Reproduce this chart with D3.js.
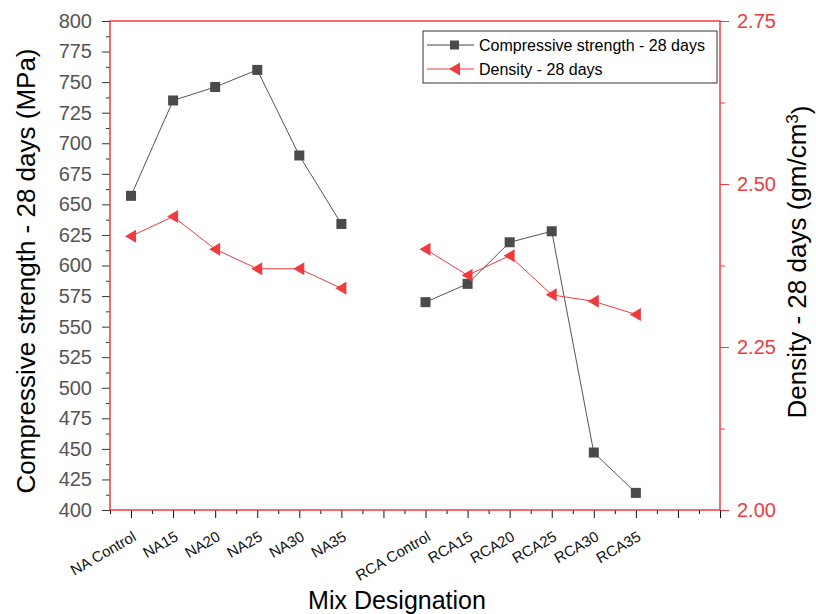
<!DOCTYPE html>
<html>
<head>
<meta charset="utf-8">
<script src="https://cdn.jsdelivr.net/npm/d3@7"></script>
<style>
body { margin: 0; background: #fff; }
text { font-family: "Liberation Sans", Arial, sans-serif; }
</style>
</head>
<body>
<svg id="chart" width="816" height="614"></svg>
<script>
var width = 816
var height = 614

// data
var mixes = ["NA Control", "NA15", "NA20", "NA25", "NA30", "NA35", "",
             "RCA Control", "RCA15", "RCA20", "RCA25", "RCA30", "RCA35", "", ""]
var strength = [657, 735, 746, 760, 690, 634, null, 570, 585, 619, 628, 447, 414, null, null]
var density = [2.42, 2.45, 2.40, 2.37, 2.37, 2.34, null, 2.40, 2.36, 2.39, 2.33, 2.32, 2.30, null, null]
var strengthTicks = d3.range(400, 801, 25)
var densityTicks = [2.00, 2.25, 2.50, 2.75]

var red = "#ef3b3f"
var grey = "#4a4a4a"

var plotL = 110, plotR = 720, plotT = 21, plotB = 510

var svg = d3.select("#chart")

var x = d3.scaleLinear().domain([-0.5, mixes.length - 1]).range([plotL, plotR])
var yL = d3.scaleLinear().domain([400, 800]).range([plotB, plotT])
var yR = d3.scaleLinear().domain([2.0, 2.75]).range([plotB, plotT])

var rows = mixes.map(function(m, i) {
    return { i: i, name: m, s: strength[i], d: density[i] }
})

// left axis
var gL = svg.append("g").attr("transform", "translate(" + plotL + ",0)")
gL.call(d3.axisLeft(yL).tickValues(strengthTicks).tickSize(8).tickPadding(10))
gL.append("g").call(d3.axisLeft(yL).tickValues(d3.range(412.5, 800, 25)).tickSize(4).tickFormat(""))
gL.selectAll(".domain").remove()
gL.selectAll("line").attr("stroke", "#333")
gL.selectAll("text").attr("fill", "#555").style("font-size", "20px")

// right axis
var gR = svg.append("g").attr("transform", "translate(" + plotR + ",0)")
gR.call(d3.axisRight(yR).tickValues(densityTicks).tickSize(9).tickPadding(8).tickFormat(d3.format(".2f")))
gR.append("g").call(d3.axisRight(yR).tickValues([2.125, 2.375, 2.625]).tickSize(5).tickFormat(""))
gR.selectAll(".domain").remove()
gR.selectAll("line").attr("stroke", red)
gR.selectAll("text").attr("fill", red).style("font-size", "20px")

// bottom axis
var gB = svg.append("g").attr("transform", "translate(0," + plotB + ")")
gB.call(d3.axisBottom(x).tickValues(d3.range(0, mixes.length)).tickSize(8)
    .tickFormat(function(i) { return mixes[i] }))
gB.append("g").call(d3.axisBottom(x).tickValues(d3.range(-0.5, mixes.length - 1, 1)).tickSize(4).tickFormat(""))
gB.selectAll(".domain").remove()
gB.selectAll("line").attr("stroke", "#111")
gB.selectAll("text")
    .attr("fill", "#111")
    .style("font-size", "15px")
    .attr("text-anchor", "end")
    .attr("x", 0).attr("y", 0).attr("dy", "0.35em")
    .attr("transform", "translate(3,25) rotate(-30)")

// frame
svg.append("rect")
    .attr("x", plotL).attr("y", plotT)
    .attr("width", plotR - plotL).attr("height", plotB - plotT)
    .attr("fill", "none").attr("stroke", red).attr("stroke-width", 1.5)

// lines
var lineS = d3.line().defined(function(d) { return d.s != null })
    .x(function(d) { return x(d.i) }).y(function(d) { return yL(d.s) })
var lineD = d3.line().defined(function(d) { return d.d != null })
    .x(function(d) { return x(d.i) }).y(function(d) { return yR(d.d) })

svg.append("path").datum(rows).attr("d", lineS)
    .attr("fill", "none").attr("stroke", "#555").attr("stroke-width", 1)
svg.append("path").datum(rows).attr("d", lineD)
    .attr("fill", "none").attr("stroke", red).attr("stroke-width", 1)

var tri = "M-6,0L5,-6.5L5,6.5Z"

svg.append("g").selectAll("rect")
    .data(rows.filter(function(d) { return d.s != null }))
    .enter().append("rect")
        .attr("x", function(d) { return x(d.i) - 5 })
        .attr("y", function(d) { return yL(d.s) - 5 })
        .attr("width", 10).attr("height", 10)
        .attr("fill", grey)

svg.append("g").selectAll("path")
    .data(rows.filter(function(d) { return d.d != null }))
    .enter().append("path")
        .attr("d", tri)
        .attr("transform", function(d) { return "translate(" + x(d.i) + "," + yR(d.d) + ")" })
        .attr("fill", red)

// axis titles
svg.append("text")
    .attr("transform", "translate(35,271) rotate(-90)")
    .attr("text-anchor", "middle")
    .style("font-size", "26px")
    .text("Compressive strength - 28 days (MPa)")

var rt = svg.append("text")
    .attr("transform", "translate(806,262) rotate(-90)")
    .attr("text-anchor", "middle")
    .style("font-size", "26px")
rt.append("tspan").text("Density - 28 days (gm/cm")
rt.append("tspan").attr("dy", "-0.45em").style("font-size", "17px").text("3")
rt.append("tspan").attr("dy", "0.45em").text(")")

svg.append("text")
    .attr("x", 397).attr("y", 609)
    .attr("text-anchor", "middle")
    .style("font-size", "25px")
    .text("Mix Designation")

// legend
var lg = svg.append("g")
lg.append("rect")
    .attr("x", 423).attr("y", 31).attr("width", 294).attr("height", 52)
    .attr("fill", "#fff").attr("stroke", "#333").attr("stroke-width", 1)

var legendItems = [
    { label: "Compressive strength - 28 days", color: "#444", mark: grey, y: 45, kind: "sq" },
    { label: "Density - 28 days", color: red, mark: red, y: 69, kind: "tri" }
]
legendItems.forEach(function(it) {
    lg.append("line").attr("x1", 427).attr("x2", 474).attr("y1", it.y).attr("y2", it.y)
        .attr("stroke", it.color).attr("stroke-width", 1)
    if (it.kind == "sq") {
        lg.append("rect").attr("x", 450).attr("y", it.y - 4.5).attr("width", 9).attr("height", 9).attr("fill", it.mark)
    } else {
        lg.append("path").attr("d", tri).attr("transform", "translate(455," + it.y + ")").attr("fill", it.mark)
    }
    lg.append("text").attr("x", 479).attr("y", it.y).attr("dy", "0.35em")
        .style("font-size", "16px").text(it.label)
})
</script>
</body>
</html>
